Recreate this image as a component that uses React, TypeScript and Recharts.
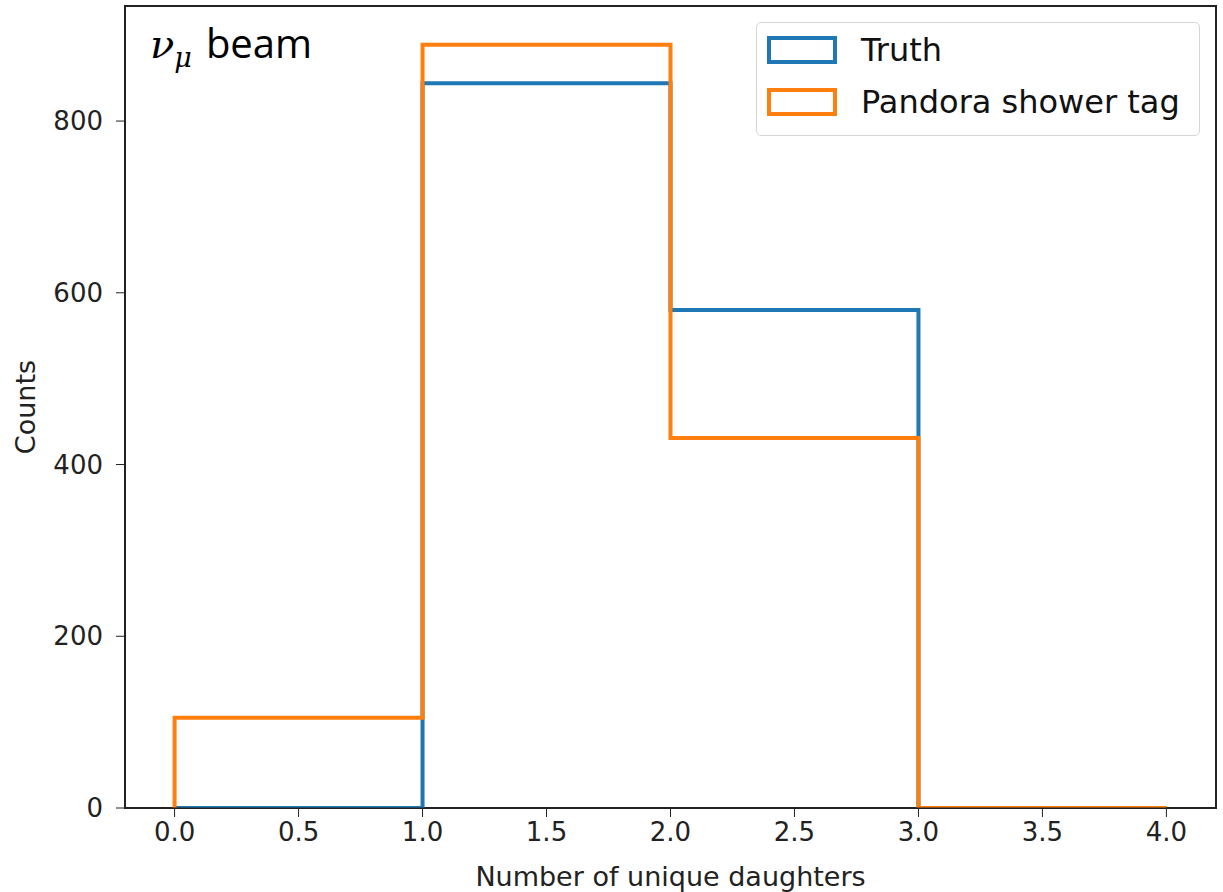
import React from "react";
import {
  ComposedChart,
  Line,
  XAxis,
  YAxis,
  ReferenceArea,
} from "recharts";

// histogram bin edges and counts
const binEdges = [0, 1, 2, 3, 4];
const truthCounts = [0, 844, 580, 0];
const pandoraCounts = [105, 889, 431, 0];
const xTicks = [0, 0.5, 1, 1.5, 2, 2.5, 3, 3.5, 4];
const yTicks = [0, 200, 400, 600, 800];

const BLUE = "#1f77b4";
const ORANGE = "#ff7f0e";
const FONT = "'DejaVu Sans', sans-serif";

// outline of a step histogram: up from the baseline, across each bin, back down
const stepPoints = (edges: number[], counts: number[]) => {
  const pts = [{ x: edges[0], y: 0 }];
  counts.forEach((c, i) => pts.push({ x: edges[i], y: c }));
  pts.push({ x: edges[edges.length - 1], y: counts[counts.length - 1] });
  pts.push({ x: edges[edges.length - 1], y: 0 });
  return pts;
};

const truthSteps = stepPoints(binEdges, truthCounts);
const pandoraSteps = stepPoints(binEdges, pandoraCounts);

const legendItems = [
  { label: "Truth", color: BLUE },
  { label: "Pandora shower tag", color: ORANGE },
];

const LegendBox = () => (
  <div
    style={{
      position: "absolute",
      left: 756,
      top: 22,
      width: 444,
      height: 114,
      border: "1px solid #d6d6d6",
      borderRadius: 5,
      background: "#fff",
      fontFamily: FONT,
      boxSizing: "border-box",
      paddingTop: 1,
    }}
  >
    {legendItems.map((it) => (
      <div
        key={it.label}
        style={{ display: "flex", alignItems: "center", height: 52 }}
      >
        <div
          style={{
            marginLeft: 10,
            width: 70,
            height: 28,
            border: `4px solid ${it.color}`,
            boxSizing: "border-box",
          }}
        />
        <span style={{ marginLeft: 24, fontSize: 32, color: "#111" }}>
          {it.label}
        </span>
      </div>
    ))}
  </div>
);

export default function App() {
  return (
    <div
      style={{
        position: "absolute",
        left: 0,
        top: 0,
        width: 1223,
        height: 892,
        background: "#fff",
        overflow: "hidden",
      }}
    >
      <ComposedChart
        width={1223}
        height={892}
        margin={{ top: 6, right: 7, left: 0, bottom: 0 }}
      >
        <XAxis
          dataKey="x"
          type="number"
          domain={[-0.2, 4.2]}
          allowDataOverflow
          ticks={xTicks}
          tickFormatter={(v: number) => v.toFixed(1)}
          height={84}
          tickSize={9}
          tickMargin={6}
          stroke="#222"
          tick={{ fill: "#222", fontSize: 26, fontFamily: FONT }}
          label={{
            value: "Number of unique daughters",
            position: "insideBottom",
            offset: 6,
            fill: "#222",
            fontSize: 27,
            fontFamily: FONT,
          }}
        />
        <YAxis
          type="number"
          domain={[0, 934]}
          allowDataOverflow
          ticks={yTicks}
          width={125}
          tickSize={9}
          tickMargin={13}
          stroke="#222"
          tick={{ fill: "#222", fontSize: 26, fontFamily: FONT }}
          label={{
            value: "Counts",
            angle: -90,
            position: "insideLeft",
            offset: 25,
            fill: "#222",
            fontSize: 27,
            fontFamily: FONT,
            style: { textAnchor: "middle" },
          }}
        />
        <ReferenceArea
          x1={-0.2}
          x2={4.2}
          y1={0}
          y2={934}
          fill="none"
          stroke="#222"
          strokeWidth={2}
          ifOverflow="visible"
        />
        <Line
          data={truthSteps}
          dataKey="y"
          type="stepAfter"
          stroke={BLUE}
          strokeWidth={4}
          strokeLinejoin="miter"
          dot={false}
          activeDot={false}
          isAnimationActive={false}
        />
        <Line
          data={pandoraSteps}
          dataKey="y"
          type="stepAfter"
          stroke={ORANGE}
          strokeWidth={4}
          strokeLinejoin="miter"
          dot={false}
          activeDot={false}
          isAnimationActive={false}
        />
      </ComposedChart>
      <LegendBox />
      <div
        style={{
          position: "absolute",
          left: 150,
          top: 18,
          fontFamily: "'Open Sans', sans-serif",
          fontSize: 40,
          color: "#000",
          lineHeight: "50px",
          whiteSpace: "nowrap",
        }}
      >
        <span style={{ fontFamily: "'DejaVu Serif', serif", fontStyle: "italic" }}>
          ν
          <sub style={{ fontSize: 27, verticalAlign: "-9px" }}>μ</sub>
        </span>
        <span style={{ marginLeft: 14 }}>beam</span>
      </div>
    </div>
  );
}
